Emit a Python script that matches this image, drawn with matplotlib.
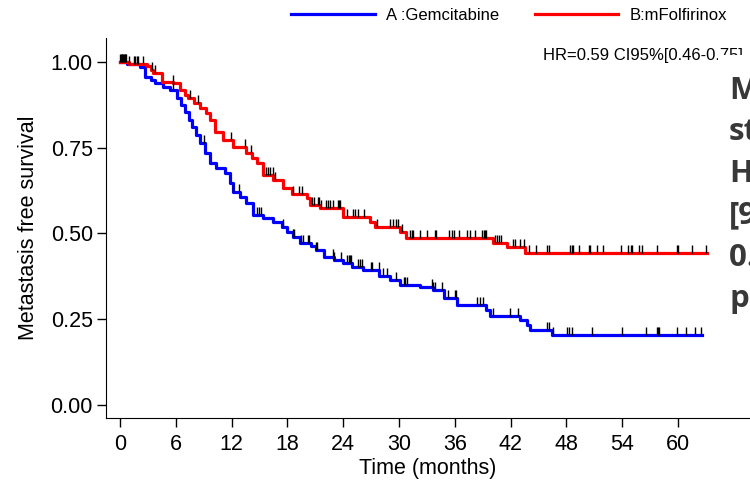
import numpy as np
import matplotlib
matplotlib.use('Agg')
import matplotlib.pyplot as plt
from matplotlib.patches import Rectangle

plt.rcParams['font.family'] = ['Liberation Sans', 'DejaVu Sans']

# Kaplan-Meier steps (time in months, survival after the step)
gem_t = [0, 0.8, 2.2, 2.7, 3.3, 3.8, 4.6, 5.4, 6.1, 6.6, 7.0, 7.4, 7.7, 8.2, 8.6, 9.1,
         9.7, 10.3, 11.3, 11.8, 12.2, 12.9, 13.6, 14.3, 15.4, 16.4, 17.4, 18.0, 18.6,
         19.4, 20.5, 21.1, 21.9, 23.0, 24.0, 25.0, 26.1, 27.9, 29.0, 30.1, 32.3, 33.7,
         34.8, 36.2, 39.4, 39.8, 43.0, 43.8, 44.1, 46.4, 62.6]
gem_s = [1.0, 0.993, 0.986, 0.957, 0.948, 0.938, 0.928, 0.918, 0.894, 0.875, 0.855, 0.83,
         0.81, 0.786, 0.764, 0.735, 0.705, 0.69, 0.676, 0.647, 0.621, 0.605, 0.588, 0.554,
         0.545, 0.532, 0.52, 0.505, 0.49, 0.473, 0.462, 0.452, 0.432, 0.422, 0.413, 0.403,
         0.394, 0.376, 0.364, 0.35, 0.345, 0.335, 0.312, 0.29, 0.277, 0.259, 0.247, 0.232,
         0.219, 0.204, 0.204]

ffx_t = [0, 1.0, 2.9, 3.3, 3.6, 4.5, 5.7, 6.45, 7.0, 7.3, 8.0, 8.6, 9.2, 9.7, 10.2, 11.1,
         12.2, 13.6, 14.2, 14.7, 15.4, 16.5, 17.5, 18.5, 20.1, 20.4, 21.5, 24.0, 26.9, 27.4,
         30.1, 30.8, 40.1, 41.6, 43.5, 63.1]
ffx_s = [1.0, 0.994, 0.988, 0.978, 0.968, 0.943, 0.938, 0.918, 0.905, 0.895, 0.88, 0.866,
         0.85, 0.831, 0.797, 0.773, 0.753, 0.734, 0.72, 0.705, 0.671, 0.656, 0.632, 0.615,
         0.603, 0.583, 0.574, 0.549, 0.534, 0.519, 0.505, 0.486, 0.473, 0.46, 0.444, 0.444]

# censoring times
gem_cens = [0.1, 0.2, 0.3, 0.5, 1.0, 1.5, 5.7, 9.0, 12.2, 12.8, 14.7, 15.0, 15.2, 17.5, 18.6,
            18.7, 19.5, 19.7, 20.2, 20.3, 21.1, 21.2, 22.9, 23.0, 23.8, 24.4, 24.6, 24.7,
            24.8, 25.6, 25.8, 26.0, 27.0, 27.1, 27.8, 28.3, 28.7, 29.7, 30.5, 30.6, 30.9,
            33.5, 33.7, 33.9, 34.6, 35.3, 36.0, 36.1, 38.4, 38.7, 39.0, 40.1, 41.9, 42.8,
            45.9, 46.1, 46.6, 48.1, 48.3, 48.6, 50.8, 54.0, 56.6, 57.7, 57.8, 58.0, 59.9,
            60.9, 61.8, 62.5]
ffx_cens = [0.0, 0.2, 0.4, 0.5, 0.7, 1.6, 1.8, 1.9, 2.5, 3.4, 3.8, 5.7, 7.5, 8.4, 11.9, 13.4,
            14.1, 15.7, 15.9, 16.1, 16.4, 16.7, 18.6, 19.2, 19.6, 20.7, 20.9, 21.3, 21.4,
            21.6, 22.2, 22.4, 22.6, 22.9, 23.4, 23.5, 23.7, 24.4, 25.1, 25.3, 25.6, 26.2,
            27.6, 29.0, 29.4, 29.7, 29.9, 30.3, 31.2, 31.4, 31.5, 32.3, 33.0, 33.9, 34.0,
            35.4, 35.7, 35.9, 36.4, 37.3, 37.6, 38.2, 38.9, 39.1, 39.2, 39.4, 40.3, 40.5,
            40.8, 41.0, 42.3, 42.5, 43.0, 43.4, 44.0, 44.7, 45.9, 46.1, 48.4, 48.6, 48.7,
            49.4, 50.4, 50.5, 51.3, 51.9, 53.9, 54.6, 54.9, 55.1, 55.8, 56.1, 57.7, 59.9,
            60.0, 61.5, 63.0]

labels = ['A :Gemcitabine', 'B:mFolfirinox']
xticks = [0, 6, 12, 18, 24, 30, 36, 42, 48, 54, 60]
yticks = [0.0, 0.25, 0.5, 0.75, 1.0]


def surv_at(t, s, times):
    t = np.asarray(t)
    idx = np.searchsorted(t, times, side='right') - 1
    return np.asarray(s)[idx]


fig = plt.figure(figsize=(7.5, 4.91), dpi=100)
ax = fig.add_axes([0.1413, 0.1487, 0.8587, 0.774])

ax.step(gem_t, gem_s, where='post', color='#0000FF', lw=2.3, label=labels[0])
ax.step(ffx_t, ffx_s, where='post', color='#FF0000', lw=2.3, label=labels[1])
ax.plot(gem_cens, surv_at(gem_t, gem_s, gem_cens), ls='none', marker=2,
        ms=6, mew=1, color='black')
ax.plot(ffx_cens, surv_at(ffx_t, ffx_s, ffx_cens), ls='none', marker=2,
        ms=6, mew=1, color='black')

ax.set_xlim(-1.505, 67.74)
ax.set_ylim(-0.038, 1.07)
ax.set_xticks(xticks)
ax.set_yticks(yticks)
ax.set_yticklabels(['%.2f' % v for v in yticks])
ax.spines['top'].set_visible(False)
ax.spines['right'].set_visible(False)
ax.tick_params(axis='both', labelsize=15.5, length=6.5, width=1, direction='out')
ax.tick_params(axis='x', pad=5)
ax.tick_params(axis='y', pad=3)
ax.set_xlabel('Time (months)', fontsize=15.5, labelpad=2)
ax.set_ylabel('Metastasis free survival', fontsize=15.5, labelpad=8)

fig.legend(loc='center', bbox_to_anchor=(0.679, 1 - 15 / 491), ncol=2, frameon=False,
           fontsize=12, handlelength=5, handletextpad=0.7, columnspacing=2.1)

fig.text(543 / 750, 1 - 60 / 491, 'HR=0.59 CI95%[0.46-0.75]', fontsize=12, va='baseline')

# annotation box on the right, cut by the image edge as in the original
fig.patches.append(Rectangle((718 / 750, 1 - 345 / 491), 40 / 750, 290 / 491,
                             transform=fig.transFigure, facecolor='white',
                             edgecolor='none', zorder=5))
fig.text(729 / 750, 1 - 76 / 491,
         'Metastasis-free\nstratified\nHR\n[95%CI]\n0.59 [0.46-0.75]\np<0.001',
         fontsize=22.5, fontweight='bold', family=['Open Sans', 'DejaVu Sans'],
         color='#383838', va='top', ha='left', linespacing=1.5, zorder=6)

fig.savefig('out.png', dpi=100)
